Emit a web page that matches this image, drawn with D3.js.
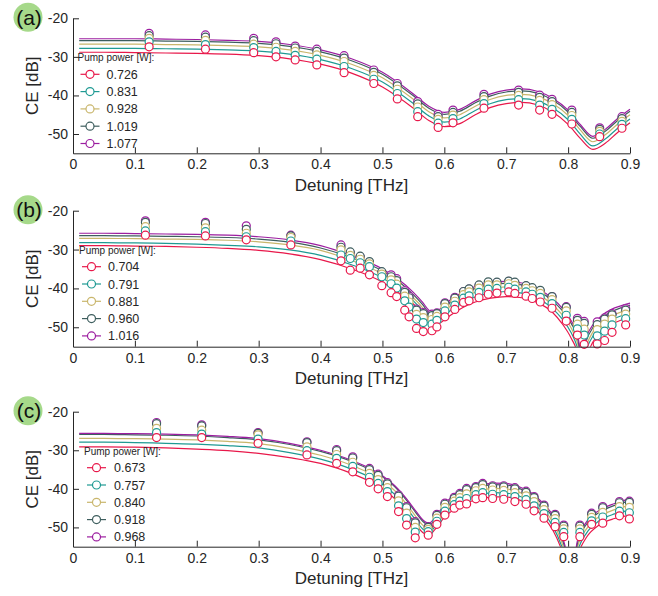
<!DOCTYPE html>
<html>
<head>
<meta charset="utf-8">
<script src="https://cdn.jsdelivr.net/npm/d3@7"></script>
<style>
  html, body { margin: 0; padding: 0; background: #fff; }
  svg { display: block; font-family: "Liberation Sans", Arial, Helvetica, sans-serif; }
</style>
</head>
<body>
<svg id="chart" width="658" height="596"></svg>
<script>
// ---- shared axis settings ----
const detuningTicks = [0, 0.1, 0.2, 0.3, 0.4, 0.5, 0.6, 0.7, 0.8, 0.9];
const detuningTickLabels = ["0", "0.1", "0.2", "0.3", "0.4", "0.5", "0.6", "0.7", "0.8", "0.9"];
const ceTicks = [-50, -40, -30, -20];
const ceTickLabels = ["-50", "-40", "-30", "-20"];
const panelLetters = ["(a)", "(b)", "(c)"];

// ---- panel (a) ----
const powersA = ["0.726", "0.831", "0.928", "1.019", "1.077"];
const fitXA = [0.01, 0.05, 0.1, 0.15, 0.2, 0.25, 0.3, 0.35, 0.4, 0.45, 0.5, 0.55, 0.575, 0.6, 0.625, 0.65, 0.675, 0.7, 0.725, 0.75, 0.775, 0.8, 0.82, 0.84, 0.86, 0.88, 0.9];
const fitA = [
  [-28.8, -28.8, -28.9, -29.0, -29.1, -29.3, -29.7, -30.5, -31.9, -34.2, -37.8, -43.3, -46.5, -48.1, -47.3, -45.0, -43.1, -42.1, -41.8, -42.4, -44.3, -47.5, -51.2, -54.0, -52.4, -49.6, -47.1],
  [-27.8, -27.8, -27.8, -27.9, -28.0, -28.2, -28.5, -29.3, -30.7, -33.0, -36.5, -42.1, -45.3, -46.9, -46.1, -43.9, -42.1, -41.1, -40.8, -41.4, -43.2, -46.3, -50.1, -53.1, -51.3, -48.5, -46.1],
  [-26.7, -26.7, -26.7, -26.8, -26.9, -27.1, -27.4, -28.2, -29.6, -31.9, -35.4, -41.0, -44.2, -45.8, -45.0, -42.8, -41.0, -40.0, -39.7, -40.3, -42.1, -45.2, -49.0, -52.0, -50.2, -47.4, -45.0],
  [-25.8, -25.8, -25.8, -25.9, -26.0, -26.2, -26.5, -27.3, -28.7, -31.0, -34.5, -40.1, -43.3, -44.9, -44.1, -41.9, -40.1, -39.1, -38.8, -39.4, -41.2, -44.3, -48.1, -51.1, -49.3, -46.5, -44.1],
  [-25.3, -25.3, -25.3, -25.4, -25.5, -25.7, -26.0, -26.8, -28.2, -30.5, -34.0, -39.6, -42.8, -44.4, -43.6, -41.4, -39.6, -38.6, -38.3, -38.9, -40.7, -43.8, -47.6, -50.6, -48.8, -46.0, -43.6]
];
const measXA = [0.123, 0.214, 0.292, 0.328, 0.359, 0.394, 0.438, 0.486, 0.524, 0.557, 0.590, 0.614, 0.664, 0.720, 0.754, 0.774, 0.806, 0.851, 0.887];
const measA = [
  [-27.4, -28.0, -28.9, -30.0, -30.8, -32.1, -34.1, -36.9, -40.9, -45.5, -48.3, -47.1, -43.3, -42.5, -43.8, -44.9, -47.4, -50.7, -48.5],
  [-26.1, -26.8, -27.6, -28.6, -29.6, -30.6, -32.5, -35.8, -39.5, -44.2, -47.2, -46.0, -42.1, -41.1, -42.5, -43.6, -46.2, -50.0, -47.5],
  [-25.2, -25.7, -26.7, -27.5, -28.6, -29.5, -31.2, -34.8, -38.4, -43.0, -46.2, -45.1, -41.1, -40.0, -41.3, -42.4, -45.2, -49.3, -46.7],
  [-24.5, -24.9, -25.8, -26.6, -27.7, -28.6, -30.3, -34.0, -37.5, -42.2, -45.5, -44.4, -40.3, -39.2, -40.5, -41.6, -44.4, -48.8, -46.0],
  [-23.9, -24.3, -25.2, -26.1, -27.2, -28.0, -29.7, -33.4, -36.9, -41.6, -44.9, -43.8, -39.7, -38.6, -39.9, -41.0, -43.8, -48.4, -45.5]
];

// ---- panel (b) ----
const powersB = ["0.704", "0.791", "0.881", "0.960", "1.016"];
const fitXB = [0.01, 0.05, 0.1, 0.15, 0.2, 0.25, 0.3, 0.35, 0.4, 0.45, 0.5, 0.525, 0.55, 0.565, 0.575, 0.585, 0.595, 0.61, 0.63, 0.65, 0.675, 0.7, 0.725, 0.75, 0.775, 0.79, 0.805, 0.815, 0.822, 0.83, 0.84, 0.855, 0.87, 0.885, 0.9];
const fitB = [
  [-29.0, -29.0, -29.1, -29.2, -29.4, -29.7, -30.2, -31.1, -32.6, -35.0, -38.4, -41.0, -44.0, -46.5, -48.4, -49.6, -48.7, -46.9, -44.9, -43.5, -42.5, -42.1, -42.4, -43.6, -46.2, -49.0, -52.8, -56.5, -62.0, -57.5, -53.8, -51.0, -49.3, -48.2, -47.5],
  [-28.2, -28.2, -28.3, -28.4, -28.6, -28.9, -29.3, -30.1, -31.5, -33.9, -37.3, -39.9, -43.2, -45.8, -47.8, -48.8, -47.7, -45.7, -43.6, -42.2, -41.2, -40.8, -41.2, -42.5, -45.2, -47.8, -51.4, -55.2, -60.0, -55.5, -52.3, -49.7, -48.1, -47.1, -46.4],
  [-27.1, -27.1, -27.2, -27.3, -27.4, -27.6, -28.0, -28.8, -30.2, -32.8, -36.3, -38.9, -42.4, -45.0, -47.1, -47.9, -46.7, -44.5, -42.4, -41.0, -40.0, -39.6, -40.0, -41.4, -44.2, -46.7, -50.2, -54.0, -59.0, -54.5, -51.2, -48.6, -47.1, -46.1, -45.4],
  [-26.4, -26.4, -26.5, -26.6, -26.7, -26.9, -27.3, -28.1, -29.6, -32.1, -35.5, -38.1, -41.6, -44.2, -46.2, -46.9, -45.7, -43.5, -41.4, -40.0, -39.0, -38.7, -39.1, -40.5, -43.2, -45.6, -49.0, -52.6, -58.0, -53.2, -50.1, -47.5, -46.0, -45.0, -44.3],
  [-25.8, -25.8, -25.9, -26.0, -26.1, -26.3, -26.7, -27.5, -29.0, -31.6, -35.0, -37.6, -41.0, -43.6, -45.6, -46.2, -45.0, -42.9, -40.9, -39.5, -38.5, -38.2, -38.6, -40.0, -42.6, -45.0, -48.3, -51.8, -57.0, -52.3, -49.4, -46.9, -45.4, -44.5, -43.8]
];
const measXB = [0.117, 0.214, 0.280, 0.352, 0.433, 0.448, 0.464, 0.479, 0.499, 0.514, 0.523, 0.536, 0.543, 0.555, 0.566, 0.580, 0.588, 0.601, 0.617, 0.631, 0.640, 0.656, 0.671, 0.685, 0.704, 0.714, 0.732, 0.742, 0.755, 0.774, 0.797, 0.815, 0.826, 0.847, 0.859, 0.871, 0.893];
const measB = [
  [-26.3, -26.5, -27.5, -28.8, -32.9, -35.3, -34.8, -36.5, -39.3, -41.1, -42.1, -45.6, -47.3, -50.3, -51.1, -50.9, -49.9, -47.3, -45.4, -43.6, -43.2, -42.4, -41.5, -41.2, -40.9, -41.3, -42.0, -42.6, -43.5, -45.1, -48.4, -52.0, -54.4, -54.3, -53.4, -51.3, -49.4],
  [-25.2, -25.4, -26.7, -27.8, -31.4, -32.3, -33.4, -34.4, -37.0, -38.8, -39.9, -43.2, -44.8, -47.9, -48.8, -49.2, -48.2, -45.8, -44.3, -42.5, -41.9, -41.0, -40.2, -40.0, -39.7, -40.2, -40.9, -41.5, -42.3, -43.9, -46.9, -50.4, -52.0, -52.2, -51.0, -49.4, -47.8],
  [-24.1, -24.4, -25.8, -26.9, -30.1, -31.5, -32.5, -33.7, -36.3, -37.8, -38.9, -42.0, -43.5, -46.7, -47.5, -48.0, -47.2, -44.8, -43.3, -41.6, -40.9, -39.9, -39.1, -39.1, -38.8, -39.2, -40.0, -40.6, -41.3, -42.9, -45.8, -49.2, -50.5, -50.6, -49.2, -47.9, -46.6],
  [-23.0, -23.3, -24.8, -26.5, -29.4, -30.6, -31.7, -33.1, -35.7, -37.0, -38.0, -41.0, -42.4, -45.6, -46.5, -47.0, -46.5, -43.9, -42.5, -40.8, -40.1, -39.1, -38.3, -38.4, -38.1, -38.4, -39.3, -39.8, -40.5, -42.1, -44.9, -48.2, -49.0, -49.3, -47.9, -46.8, -45.6],
  [-22.6, -23.0, -23.9, -26.3, -28.8, -30.9, -31.9, -33.3, -35.9, -36.5, -37.5, -40.6, -42.0, -45.3, -46.2, -46.6, -46.3, -43.7, -42.3, -40.8, -40.2, -39.3, -38.6, -38.5, -38.2, -38.6, -39.4, -40.0, -40.7, -42.1, -44.7, -47.7, -48.5, -48.6, -47.6, -46.5, -45.2]
];

// ---- panel (c) ----
const powersC = ["0.673", "0.757", "0.840", "0.918", "0.968"];
const fitXC = [0.01, 0.05, 0.1, 0.15, 0.2, 0.25, 0.3, 0.35, 0.4, 0.45, 0.5, 0.52, 0.54, 0.555, 0.565, 0.575, 0.585, 0.6, 0.62, 0.64, 0.66, 0.68, 0.7, 0.72, 0.74, 0.76, 0.775, 0.79, 0.8, 0.807, 0.815, 0.83, 0.85, 0.875, 0.9];
const fitC = [
  [-29.1, -29.1, -29.2, -29.4, -29.7, -30.1, -30.8, -31.9, -33.4, -36.0, -40.0, -42.6, -46.2, -49.4, -51.3, -52.0, -50.5, -47.4, -44.9, -43.4, -42.5, -42.1, -42.1, -42.8, -44.4, -47.3, -50.6, -56.0, -61.0, -63.0, -57.5, -52.5, -49.4, -47.7, -46.8],
  [-27.9, -27.9, -28.0, -28.2, -28.4, -28.8, -29.4, -30.6, -32.3, -34.9, -38.9, -41.5, -45.2, -48.4, -50.4, -51.2, -49.8, -46.4, -43.8, -42.3, -41.4, -41.0, -41.1, -41.8, -43.4, -46.3, -49.6, -55.0, -60.0, -62.5, -56.4, -51.4, -48.3, -46.5, -45.5],
  [-26.9, -26.9, -27.0, -27.1, -27.3, -27.7, -28.3, -29.5, -31.3, -33.9, -37.9, -40.5, -44.2, -47.4, -49.4, -50.3, -48.9, -45.4, -42.7, -41.2, -40.3, -39.9, -40.0, -40.8, -42.4, -45.3, -48.5, -54.0, -59.0, -62.0, -55.3, -50.3, -47.2, -45.4, -44.2],
  [-25.9, -25.9, -26.0, -26.1, -26.3, -26.7, -27.3, -28.5, -30.3, -32.9, -36.9, -39.5, -43.2, -46.4, -48.4, -49.4, -48.0, -44.4, -41.7, -40.2, -39.3, -38.9, -39.0, -39.8, -41.4, -44.3, -47.4, -52.8, -58.0, -61.0, -54.2, -49.1, -46.1, -44.3, -43.1],
  [-25.6, -25.6, -25.7, -25.8, -26.0, -26.4, -27.0, -28.2, -30.0, -32.6, -36.6, -39.2, -42.8, -46.0, -48.0, -48.9, -47.5, -44.0, -41.3, -39.8, -38.9, -38.5, -38.6, -39.4, -41.0, -43.8, -46.8, -52.0, -57.5, -60.0, -53.5, -48.5, -45.6, -43.8, -42.6]
];
const measXC = [0.135, 0.208, 0.299, 0.378, 0.426, 0.452, 0.479, 0.493, 0.508, 0.526, 0.539, 0.553, 0.574, 0.588, 0.601, 0.616, 0.625, 0.636, 0.651, 0.662, 0.678, 0.696, 0.714, 0.732, 0.745, 0.761, 0.779, 0.793, 0.819, 0.838, 0.856, 0.883, 0.899];
const measC = [
  [-26.7, -26.7, -28.2, -31.2, -33.4, -35.6, -38.3, -40.0, -42.0, -45.9, -49.4, -52.7, -52.0, -49.2, -46.8, -45.0, -44.2, -43.9, -42.6, -42.3, -42.5, -42.7, -43.3, -44.0, -45.7, -47.6, -49.8, -52.4, -52.4, -49.2, -48.9, -47.0, -47.8],
  [-25.4, -25.8, -27.1, -30.1, -32.1, -34.2, -37.0, -38.6, -40.7, -44.4, -47.7, -51.2, -51.1, -48.4, -45.8, -44.1, -43.2, -42.5, -41.5, -41.0, -41.4, -41.5, -42.0, -42.8, -44.4, -46.4, -48.7, -51.3, -51.3, -48.3, -47.3, -45.8, -46.2],
  [-24.3, -24.8, -26.0, -29.1, -31.1, -33.1, -36.0, -37.6, -39.7, -43.1, -46.3, -50.0, -50.5, -47.6, -44.8, -43.2, -42.3, -41.3, -40.5, -39.9, -40.3, -40.4, -41.0, -41.8, -43.3, -45.4, -47.7, -50.4, -50.4, -47.4, -46.1, -44.6, -44.8],
  [-23.1, -23.7, -25.6, -28.0, -30.1, -32.0, -35.0, -36.5, -38.7, -41.9, -44.9, -48.8, -50.0, -46.9, -44.0, -42.5, -41.5, -40.2, -39.7, -38.9, -39.5, -39.5, -40.0, -40.9, -42.3, -44.5, -46.9, -49.7, -49.7, -46.6, -44.9, -43.6, -43.5],
  [-22.8, -23.4, -25.4, -27.8, -29.8, -31.7, -34.7, -36.2, -38.4, -41.6, -44.6, -48.5, -49.8, -46.6, -43.7, -42.2, -41.2, -39.9, -39.4, -38.6, -39.2, -39.2, -39.7, -40.6, -42.0, -44.2, -46.6, -49.4, -49.4, -46.3, -44.6, -43.3, -43.2]
];

// ---- styling & layout ----
const seriesColors = ["#e8184a", "#1f9a93", "#c9b66c", "#3e5e5e", "#9c1ea0"];
const axisColor = "#262626";
const plotLeft = 73, plotRight = 630;
const panelTops = [18.3, 210.7, 411.7];
const panelBottoms = [153.3, 346.7, 546.7];
const legendLineStarts = [80.5, 82, 87];
const legendTextStarts = [106.5, 108, 114];

const panels = [
  { powers: powersA, fitX: fitXA, fit: fitA, measX: measXA, meas: measA },
  { powers: powersB, fitX: fitXB, fit: fitB, measX: measXB, meas: measB },
  { powers: powersC, fitX: fitXC, fit: fitC, measX: measXC, meas: measC }
];

const svg = d3.select("#chart");
const x = d3.scaleLinear().domain([0, 0.9]).range([plotLeft, plotRight]);

panels.forEach((p, pi) => {
  const top = panelTops[pi], bottom = panelBottoms[pi];
  const y = d3.scaleLinear().domain([-55, -20]).range([bottom, top]);
  const g = svg.append("g").attr("class", "panel");

  const clipId = "clip" + pi;
  svg.append("clipPath").attr("id", clipId)
    .append("rect")
    .attr("x", plotLeft).attr("y", top - 12)
    .attr("width", plotRight - plotLeft + 2).attr("height", bottom - top + 12);

  // model curves
  const line = d3.line()
    .x((d, i) => x(p.fitX[i]))
    .y(d => y(d))
    .curve(d3.curveMonotoneX);
  const curves = g.append("g").attr("clip-path", `url(#${clipId})`);
  p.fit.forEach((vals, si) => {
    curves.append("path")
      .attr("d", line(vals))
      .attr("fill", "none")
      .attr("stroke", seriesColors[si])
      .attr("stroke-width", 1.2);
  });

  // measured points, highest pump power first so lower ones sit on top
  const marks = g.append("g");
  for (let si = p.meas.length - 1; si >= 0; si--) {
    marks.selectAll(null)
      .data(p.meas[si])
      .enter().append("circle")
      .attr("cx", (d, i) => x(p.measX[i]))
      .attr("cy", d => y(d))
      .attr("r", 4)
      .attr("fill", "#fff")
      .attr("stroke", seriesColors[si])
      .attr("stroke-width", 1.2);
  }

  // axes
  const xAxis = d3.axisBottom(x)
    .tickValues(detuningTicks)
    .tickFormat((d, i) => detuningTickLabels[i])
    .tickSizeInner(-6).tickSizeOuter(0).tickPadding(6);
  const yAxis = d3.axisLeft(y)
    .tickValues(ceTicks)
    .tickFormat((d, i) => ceTickLabels[i])
    .tickSizeInner(-6).tickSizeOuter(0).tickPadding(5);

  const gx = g.append("g").attr("transform", `translate(0,${bottom})`).call(xAxis);
  const gy = g.append("g").attr("transform", `translate(${plotLeft},0)`).call(yAxis);
  [gx, gy].forEach(a => {
    a.select(".domain").attr("stroke", axisColor).attr("stroke-width", 1);
    a.selectAll(".tick line").attr("stroke", axisColor).attr("stroke-width", 1);
    a.selectAll(".tick text").attr("fill", axisColor)
      .attr("font-size", 14).attr("font-family", "Liberation Sans, Arial, sans-serif");
  });

  // axis titles
  g.append("text")
    .attr("x", (plotLeft + plotRight) / 2).attr("y", bottom + 37.5)
    .attr("text-anchor", "middle").attr("font-size", 17).attr("fill", axisColor)
    .text("Detuning [THz]");
  g.append("text")
    .attr("transform", `translate(38,${(top + bottom) / 2}) rotate(-90)`)
    .attr("text-anchor", "middle").attr("font-size", 17).attr("fill", axisColor)
    .text("CE [dB]");

  // panel badge
  g.append("circle")
    .attr("cx", 28).attr("cy", top - 1).attr("r", 14.5)
    .attr("fill", "#a6d98a");
  g.append("text")
    .attr("x", 29).attr("y", top + 6.5)
    .attr("text-anchor", "middle").attr("font-size", 21).attr("fill", "#111")
    .text(panelLetters[pi]);

  // legend
  const lx = legendLineStarts[pi], tx = legendTextStarts[pi];
  const leg = g.append("g");
  leg.append("text")
    .attr("x", lx - 3).attr("y", top + 43)
    .attr("font-size", 10).attr("fill", axisColor)
    .text("Pump power [W]:");
  p.powers.forEach((label, si) => {
    const ly = top + 56 + si * 17.3;
    leg.append("line")
      .attr("x1", lx).attr("x2", lx + 19).attr("y1", ly).attr("y2", ly)
      .attr("stroke", seriesColors[si]).attr("stroke-width", 1.2);
    leg.append("circle")
      .attr("cx", lx + 9.5).attr("cy", ly).attr("r", 4)
      .attr("fill", "#fff").attr("stroke", seriesColors[si]).attr("stroke-width", 1.2);
    leg.append("text")
      .attr("x", tx).attr("y", ly + 4.5)
      .attr("font-size", 12.5).attr("fill", axisColor)
      .text(label);
  });
});
</script>
</body>
</html>
